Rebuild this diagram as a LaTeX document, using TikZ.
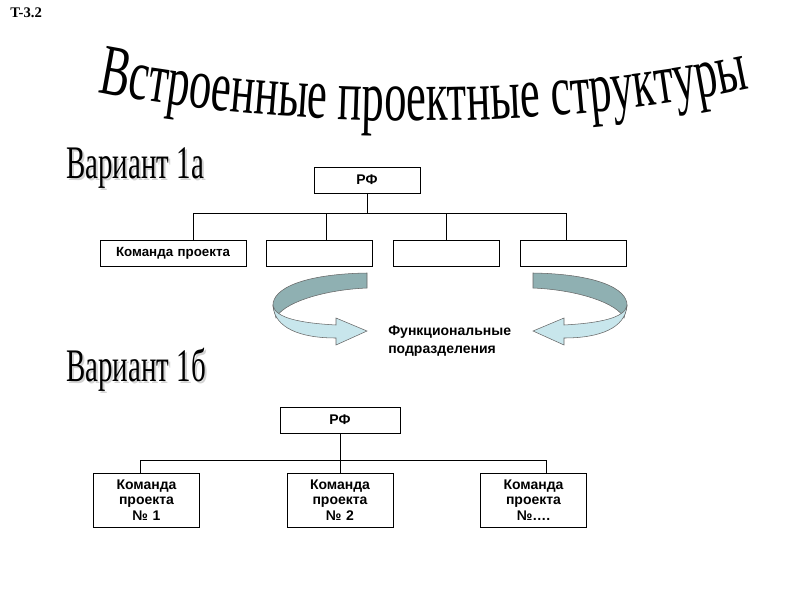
\documentclass[tikz,border=0pt]{standalone}
\usepackage{fontspec}
\setmainfont{Liberation Sans}
\newfontfamily\serif{Liberation Serif}
\newfontfamily\cond[FakeStretch=0.62]{Liberation Serif}
\usetikzlibrary{decorations.text}
\definecolor{back}{HTML}{8FB0B2}
\definecolor{front}{HTML}{C8E6EC}
\begin{document}
\begin{tikzpicture}[x=0.75pt,y=-0.75pt,
  bx/.style={draw,line width=0.6pt,inner sep=0pt,font=\bfseries\fontsize{10.5}{11.5}\selectfont,align=center},
  ln/.style={line width=0.5pt},
  big/.style={font=\cond\fontsize{35}{35}\selectfont,anchor=west,inner sep=0pt}]
\useasboundingbox (0,0) rectangle (800,600);
\node[anchor=north west,inner sep=0pt,font=\serif\bfseries\fontsize{11}{11}\selectfont] (t) at (10,8) {T-3.2};
% title
\path[decorate,decoration={text along path,text align=center,
  text={|\cond\fontsize{54}{54}\selectfont|Встроенные проектные структуры}}]
  (95,92) .. controls (300,132) and (560,130) .. (752,88);
\node[big,text=gray!35] at (68,170) {Вариант 1а};
\node[big] (v1) at (66,168) {Вариант 1а};
\node[big,text=gray!35] at (68,372) {Вариант 1б};
\node[big] (v2) at (66,370) {Вариант 1б};
% variant 1a
\node[bx,text width=79.5pt,minimum height=19.5pt] (r1) at (367,180) {РФ};
\node[bx,text width=109.5pt,minimum height=20pt,font=\bfseries\fontsize{10}{11}\selectfont] (a1) at (173,253.5) {Команда проекта};
\node[bx,text width=80pt,minimum height=20pt] (a2) at (319.5,253.5) {};
\node[bx,text width=80pt,minimum height=20pt] (a3) at (446.5,253.5) {};
\node[bx,text width=80pt,minimum height=20pt] (a4) at (573.5,253.5) {};
\coordinate (h1) at (367,213);
\coordinate (d1) at (193,213);
\coordinate (d4) at (566,213);
\coordinate (d2) at (326,213);
\coordinate (d3) at (446,213);
\draw[ln] (r1.south) -- (h1);
\draw[ln] (d1) -- (d4);
\draw[ln] (d1) -- (d1 |- a1.north);
\draw[ln] (d2) -- (d2 |- a2.north);
\draw[ln] (d3) -- (d3 |- a3.north);
\draw[ln] (d4) -- (d4 |- a4.north);
% arrows
\foreach \s/\o in {1/0,-1/900}{
\begin{scope}[xshift=\o*0.75pt,xscale=\s]
\fill[back,draw=black!60,line width=0.4pt] (367,273) .. controls (305,274) and (272,288) .. (273,306)
   -- (276,318) .. controls (282,304) and (320,290) .. (367,288) -- cycle;
\fill[front,draw=black!60,line width=0.4pt] (273,306) .. controls (276,318) and (300,323) .. (336,325)
   -- (336,318) -- (367,331) -- (336,345) -- (336,338)
   .. controls (300,338) and (275,328) .. (273,306) -- cycle;
\end{scope}}
\node[anchor=north west,inner sep=0pt,align=left,font=\bfseries\fontsize{10.5}{13}\selectfont] (f) at (388,326) {Функциональные\\подразделения};
% variant 1b
\node[bx,text width=90pt,minimum height=19.5pt] (r2) at (340,420) {РФ};
\node[bx,text width=80pt,minimum height=40.5pt] (b1) at (146.5,500) {Команда\\проекта\\№ 1};
\node[bx,text width=79.5pt,minimum height=40.5pt] (b2) at (340,500) {Команда\\проекта\\№ 2};
\node[bx,text width=80pt,minimum height=40.5pt] (b3) at (533.5,500) {Команда\\проекта\\№….};
\coordinate (h2) at (340,460);
\coordinate (e1) at (140,460);
\coordinate (e3) at (546,460);
\draw[ln] (r2.south) -- (b2.north);
\draw[ln] (e1) -- (e3);
\draw[ln] (e1) -- (e1 |- b1.north);
\draw[ln] (e3) -- (e3 |- b3.north);
\end{tikzpicture}
\end{document}
